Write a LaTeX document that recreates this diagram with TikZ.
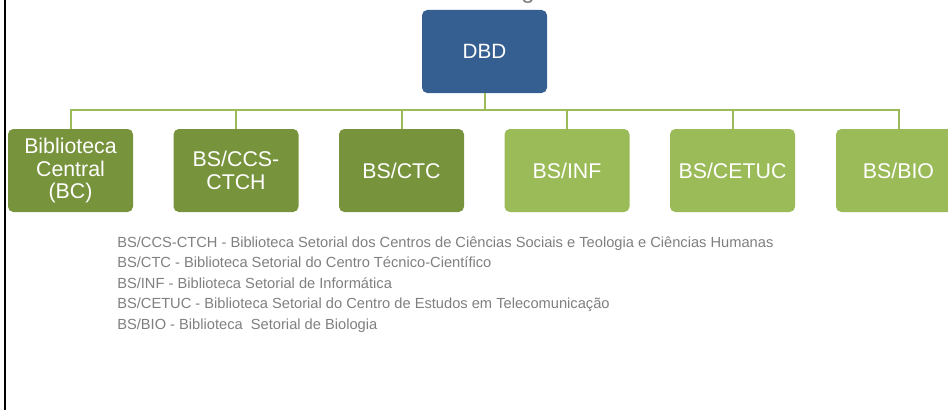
\documentclass[tikz,border=0pt]{standalone}
\usepackage{fontspec}
\setmainfont{Liberation Sans}
\usepackage{tikz}
\definecolor{dbdblue}{HTML}{365F91}
\definecolor{darkgreen}{HTML}{77933C}
\definecolor{lightgreen}{HTML}{9BBB59}
\definecolor{legendgray}{HTML}{7F7F7F}
\tikzset{
  unit/.style={rounded corners=4pt, minimum width=93.75pt, minimum height=62.25pt,
    inner sep=0pt, text=white, align=center, font=\fontsize{16}{16.9}\selectfont},
  darkunit/.style={unit, fill=darkgreen},
  lightunit/.style={unit, fill=lightgreen},
  conn/.style={lightgreen, line width=1.5pt},
  legend/.style={anchor=base west, inner sep=0pt, text=legendgray,
    font=\fontsize{11}{13}\selectfont}
}

\begin{document}
\begin{tikzpicture}[x=0.75pt, y=-0.75pt]
  \useasboundingbox (0,0) rectangle (948,410);
  \draw[line width=1.8pt] (5,0) -- (5,410);
  \node[anchor=base, inner sep=0pt, text=legendgray, font=\fontsize{18}{20}\selectfont] (title) at (528,-1) {g};

  \node[unit, fill=dbdblue, font=\fontsize{15.5}{17}\selectfont] (dbd) at (484.5,51.5) {DBD};

  \node[darkunit] (bc) at (70.5,170.5) {Biblioteca\\Central\\(BC)};
  \node[darkunit] (ccs) at (236,170.5) {BS/CCS-\\CTCH};
  \node[darkunit] (ctc) at (401.5,170.5) {BS/CTC};
  \node[lightunit] (inf) at (567,170.5) {BS/INF};
  \node[lightunit] (cetuc) at (732.5,170.5) {BS/CETUC};
  \node[lightunit] (bio) at (898.5,170.5) {BS/BIO};

  \coordinate (bus) at (484.5,110);
  \draw[conn] (dbd) -- (bus);
  \draw[conn] (bus) -| (bc);
  \draw[conn] (bus) -| (ccs);
  \draw[conn] (bus) -| (ctc);
  \draw[conn] (bus) -| (inf);
  \draw[conn] (bus) -| (cetuc);
  \draw[conn] (bus) -| (bio);

  \node[legend] (lccs) at (117,247) {BS/CCS-CTCH - Biblioteca Setorial dos Centros de Ciências Sociais e Teologia e Ciências Humanas};
  \node[legend] (lctc) at (117,267.5) {BS/CTC - Biblioteca Setorial do Centro Técnico-Científico};
  \node[legend] (linf) at (117,288) {BS/INF - Biblioteca Setorial de Informática};
  \node[legend] (lcetuc) at (117,308.5) {BS/CETUC - Biblioteca Setorial do Centro de Estudos em Telecomunicação};
  \node[legend] (lbio) at (117,329) {BS/BIO - Biblioteca~ Setorial de Biologia};
\end{tikzpicture}
\end{document}
